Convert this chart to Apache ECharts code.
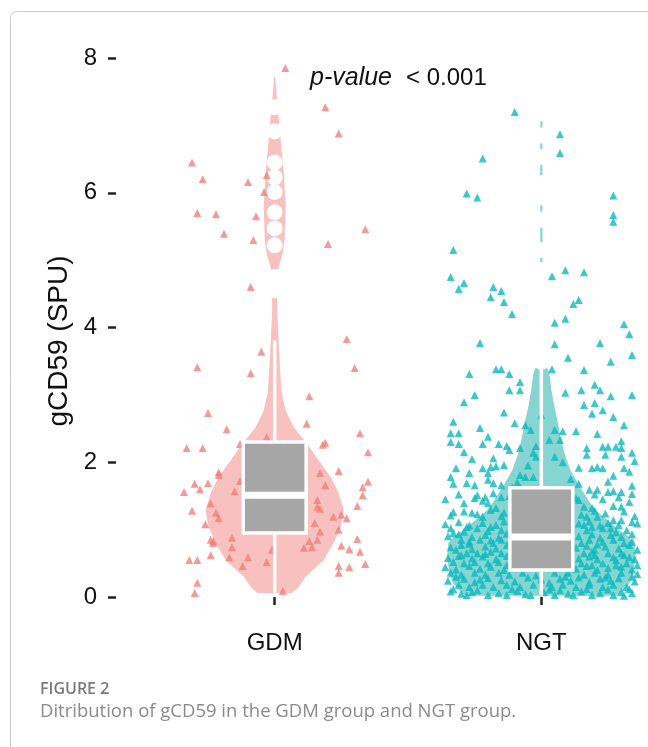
<!DOCTYPE html>
<html><head><meta charset="utf-8">
<script src="https://cdn.jsdelivr.net/npm/echarts@6/dist/echarts.min.js"></script>
<style>html,body{margin:0;padding:0;background:#fff}#c{width:648px;height:747px}</style>
</head><body><div id="c"></div><script>
// ---------- data ----------
const categories = ['GDM', 'NGT'];
const yTicks = [0, 2, 4, 6, 8];
// jittered points: [horizontal jitter (category units), gCD59 value]
const gdmPoints = [
[0.04,7.85],[0.19,7.27],[0.24,6.88],[-0.31,6.45],[-0.27,6.20],[-0.10,6.16],[-0.03,6.26],[-0.04,6.01],[-0.29,5.70],[-0.22,5.68],[-0.07,5.65],[0.34,5.46],[-0.19,5.39],[-0.08,5.30],[0.20,5.24],[-0.09,4.60],
[0.27,3.83],[-0.05,3.64],[-0.29,3.41],[0.30,3.40],[-0.09,3.32],[0.13,2.98],[-0.25,2.73],[-0.18,2.49],[0.12,2.57],[0.32,2.43],[-0.03,2.37],[-0.33,2.21],[-0.27,2.21],[0.18,2.26],[0.19,2.29],[0.35,2.15],[-0.13,2.27],
[0.24,1.87],[0.17,1.84],[-0.21,1.85],[-0.21,1.81],[0.35,1.71],[-0.30,1.68],[-0.25,1.69],[-0.28,1.60],[-0.34,1.56],[-0.15,1.57],[-0.13,1.72],[0.19,1.66],[0.33,1.63],[0.33,1.51],[-0.24,1.39],[0.16,1.44],[0.17,1.31],[0.16,1.34],[-0.31,1.28],[0.31,1.35],[-0.22,1.25],[-0.21,1.17],[-0.26,1.08],[0.22,1.19],[0.25,1.22],[0.27,1.17],[0.15,1.10],[0.24,1.00],[0.17,0.97],
[-0.24,0.85],[-0.23,0.83],[-0.16,0.88],[-0.23,0.80],[0.13,0.83],[0.16,0.85],[0.31,0.86],[-0.16,0.74],[0.11,0.73],[0.14,0.74],[0.25,0.76],[0.28,0.71],[0.32,0.67],[-0.24,0.62],[-0.17,0.59],[-0.10,0.59],[-0.32,0.55],[-0.29,0.55],[-0.03,0.52],[-0.12,0.46],[0.24,0.46],[0.28,0.44],[0.34,0.49],[0.24,0.36],[-0.29,0.21],[-0.30,0.06],[0.03,0.09],[-0.01,0.70]
];
const ngtPoints = [
[-0.10,7.20],[0.07,6.87],[0.07,6.59],[-0.22,6.51],[-0.28,5.99],[-0.24,5.93],[0.27,5.96],[0.27,5.67],[0.27,5.57],[-0.33,5.15],[-0.34,4.75],[-0.29,4.66],[-0.31,4.57],[0.04,4.76],[0.09,4.85],[0.16,4.82],[-0.18,4.60],[-0.15,4.54],[-0.19,4.45],[-0.14,4.38],[-0.11,4.20],[0.14,4.41],[0.12,4.35],[0.05,4.07],[0.09,4.13],[0.31,4.05],[0.33,3.90],[-0.23,3.77],[0.05,3.75],[0.22,3.77],
[0.34,3.59],[0.10,3.55],[0.26,3.49],[-0.27,3.31],[-0.17,3.38],[-0.15,3.38],[-0.12,3.31],[0.04,3.38],[0.16,3.37],[-0.08,3.19],[-0.08,3.07],[-0.25,3.00],[-0.12,3.07],[-0.29,2.89],[0.09,3.03],[0.15,3.07],[0.20,3.15],[0.22,3.07],[0.26,2.98],[0.34,3.00],[0.16,2.85],[0.20,2.88],[-0.14,2.74],[-0.23,2.51],[0.19,2.72],[0.23,2.77],[0.27,2.67],[-0.10,2.58],[-0.06,2.55],[-0.04,2.48],[0.05,2.48],[0.08,2.46],[0.13,2.46],[-0.34,2.43],[-0.31,2.43],[-0.34,2.30],[-0.31,2.27],[-0.29,2.15],[-0.22,2.27],[-0.16,2.27],[-0.13,2.24],[-0.12,2.18],[-0.08,2.21],[-0.03,2.14],[-0.02,2.24],[0.03,2.33],[0.07,2.33],[0.17,2.21],[0.17,2.11],[0.23,2.23],[0.25,2.23],[0.28,2.23],[0.30,2.31],[0.30,2.21],[0.34,2.14],[0.24,2.11],[0.30,2.08],[-0.18,2.06],[-0.19,1.93],[-0.32,1.91],[-0.22,1.91],[-0.20,1.84],[-0.17,1.94],[-0.14,1.96],[-0.08,1.81],[-0.06,1.78],[-0.03,1.78],[-0.02,2.08],[0.05,2.08],[0.19,1.91],[0.21,1.93],[0.23,1.91],[0.27,1.80],[0.31,1.91],
[-0.33,1.68],[-0.28,1.69],[-0.25,1.66],[-0.20,1.74],[-0.18,1.69],[-0.15,1.66],[-0.11,1.63],[-0.08,1.63],[0.14,1.68],[0.18,1.59],[0.21,1.59],[0.25,1.56],[0.27,1.57],[0.30,1.56],[0.34,1.65],[-0.24,1.51],[-0.21,1.48],[-0.25,1.47],[-0.15,1.48],[-0.29,1.39],[-0.20,1.39],[-0.17,1.32],[-0.33,1.26],[-0.26,1.25],[-0.22,1.19],[-0.15,1.20],[0.14,1.44],[0.16,1.34],[0.19,1.32],[0.23,1.45],[0.27,1.35],[0.30,1.34],[0.33,1.41],[0.27,1.14],[0.30,1.14],[0.34,1.11],[0.17,1.19],[0.21,1.19],[0.16,1.07],[0.19,1.04],[0.23,1.02],[0.28,0.96],[0.32,0.99],[-0.34,1.02],[-0.33,0.95],[-0.28,1.04],[-0.24,1.02],[-0.19,1.04],[-0.15,0.99],[-0.30,0.85],[-0.27,0.82],[-0.23,0.85],[-0.18,0.80],[-0.15,0.85],[-0.32,0.70],[-0.28,0.65],[-0.24,0.65],[-0.19,0.67],[-0.15,0.65],[0.15,0.80],[0.18,0.85],[0.23,0.82],[0.27,0.85],[0.31,0.80],[0.16,0.65],[0.20,0.62],[0.25,0.65],[0.30,0.65],[0.33,0.59],[-0.33,0.52],[-0.29,0.50],[-0.25,0.52],[-0.20,0.50],[-0.16,0.52],[0.15,0.50],[0.19,0.47],[0.23,0.50],[0.28,0.47],[0.32,0.50],[-0.34,0.36],[-0.30,0.33],[-0.25,0.36],[-0.21,0.33],[-0.16,0.36],[-0.12,0.33],[-0.07,0.36],[0.05,0.36],[0.10,0.36],[0.16,0.33],[0.20,0.36],[0.25,0.33],[0.30,0.36],[0.34,0.30],[-0.31,0.18],[-0.27,0.15],[-0.22,0.18],[-0.18,0.15],[-0.13,0.18],[-0.08,0.15],[-0.03,0.18],[0.04,0.15],[0.08,0.18],[0.13,0.15],[0.18,0.18],[0.23,0.15],[0.27,0.18],[0.32,0.15],[-0.28,0.03],[-0.20,0.03],[-0.13,0.03],[-0.04,0.03],[0.05,0.03],[0.12,0.03],[0.19,0.03],[0.27,0.03],[0.34,0.06],
[-0.34,0.08],[-0.30,0.05],[-0.24,0.10],[-0.16,0.06],[-0.09,0.09],[-0.06,0.04],[0.01,0.07],[0.07,0.10],[0.10,0.05],[0.15,0.08],[0.22,0.06],[0.25,0.11],[0.30,0.07],[0.33,0.12],
[-0.35,0.24],[-0.29,0.27],[-0.25,0.22],[-0.20,0.28],[-0.15,0.25],[-0.10,0.23],[-0.05,0.29],[0.00,0.26],[0.03,0.21],[0.07,0.27],[0.11,0.24],[0.14,0.29],[0.18,0.22],[0.22,0.27],[0.26,0.24],[0.29,0.28],[0.35,0.23],
[-0.36,0.44],[-0.32,0.41],[-0.27,0.46],[-0.23,0.42],[-0.19,0.45],[-0.14,0.40],[-0.13,0.47],[0.13,0.42],[0.17,0.46],[0.21,0.40],[0.25,0.43],[0.30,0.45],[0.34,0.41],[0.36,0.47],
[-0.35,0.58],[-0.31,0.61],[-0.26,0.57],[-0.22,0.60],[-0.17,0.56],[-0.13,0.61],[0.14,0.57],[0.18,0.60],[0.21,0.56],[0.27,0.59],[0.31,0.62],[0.35,0.56],
[-0.34,0.74],[-0.30,0.77],[-0.26,0.71],[-0.21,0.75],[-0.17,0.72],[-0.13,0.77],[0.13,0.73],[0.17,0.76],[0.20,0.70],[0.24,0.75],[0.29,0.72],[0.33,0.77],[0.36,0.70],
[-0.35,0.90],[-0.31,0.93],[-0.26,0.89],[-0.21,0.92],[-0.16,0.88],[-0.13,0.94],[0.14,0.90],[0.19,0.93],[0.22,0.88],[0.26,0.92],[0.30,0.89],[0.34,0.93],
[-0.36,1.08],[-0.31,1.11],[-0.27,1.06],[-0.22,1.10],[-0.17,1.07],[-0.14,1.12],[0.14,1.09],[0.18,1.12],[0.22,1.06],[0.25,1.10],[0.29,1.07],[0.36,1.09],
[-0.34,1.21],[-0.29,1.27],[-0.24,1.23],[-0.19,1.29],[-0.14,1.25],[0.15,1.22],[0.20,1.28],[0.24,1.24],[0.31,1.27],[0.35,1.20],
[-0.36,1.45],[-0.31,1.52],[-0.22,1.43],[-0.18,1.54],[-0.12,1.50],[0.13,1.47],[0.20,1.52],[0.29,1.48],[0.34,1.53],
[-0.34,1.78],[-0.27,1.84],[-0.09,1.70],[0.11,1.75],[0.25,1.71],[0.33,1.86],[-0.26,2.05],[-0.05,1.95],[0.08,2.00],[0.14,1.92],[0.35,2.02],[-0.20,2.38],[0.21,2.42],[0.31,2.55],[-0.33,2.60],[0.00,2.70],
[-0.33,0.12],[-0.26,0.07],[-0.11,0.12],[0.03,0.11],[0.17,0.12],[0.31,0.02],[-0.32,0.30],[-0.23,0.26],[-0.02,0.32],[0.09,0.30],[0.24,0.29],[0.36,0.34],
[-0.30,0.62],[-0.21,0.64],[0.19,0.67],[0.28,0.55],[-0.27,0.79],[-0.19,0.84],[0.21,0.78],[0.34,0.82],[-0.29,0.97],[-0.20,0.98],[0.17,0.99],[0.26,1.02]
];
// violin outlines: [value, half width (category units)]
const gdmViolin = [[0.06,0.064],[0.15,0.090],[0.30,0.116],[0.55,0.184],[0.80,0.221],[1.04,0.248],[1.29,0.259],[1.54,0.240],[1.78,0.210],[2.03,0.165],[2.28,0.120],[2.52,0.071],[2.77,0.041],[3.03,0.026],[3.27,0.022],[3.77,0.015],[4.26,0.0094],[4.80,0.0094],[4.95,0.019],[5.10,0.030],[5.30,0.037],[5.80,0.041],[6.30,0.034],[6.63,0.026],[6.80,0.022],[7.12,0.015],[7.37,0.009],[7.72,0.002]];
const ngtViolin = [[0.02,0.285],[0.10,0.308],[0.20,0.330],[0.35,0.345],[0.60,0.353],[0.80,0.349],[0.90,0.326],[0.99,0.293],[1.14,0.248],[1.29,0.203],[1.39,0.184],[1.63,0.146],[1.88,0.109],[2.14,0.086],[2.40,0.071],[2.63,0.060],[2.82,0.049],[3.07,0.038],[3.32,0.030],[3.40,0.022],[3.46,0.0045],[7.10,0.004],[7.20,0.001]];
// box stats: [lower whisker, Q1, median, Q3, upper whisker]
const gdmBox = [0.06, 0.95, 1.51, 2.30, 3.81];
const ngtBox = [0.02, 0.40, 0.89, 1.62, 3.40];
const gdmOutliers = [7.27, 6.91, 6.45, 6.23, 6.01, 5.71, 5.47, 5.22, 4.75, 4.55];
const ngtOutliers = [7.18, 6.85, 6.53, 6.14, 5.93, 5.60, 5.15, 4.85, 4.64, 4.44, 4.23, 4.02, 3.81, 3.61, 3.49];

// ---------- chart ----------
const FONT = '"Liberation Sans", Arial, sans-serif';
const chart = echarts.init(document.getElementById('c'), null, {renderer: 'canvas'});

function violinSeries(profile, center, color) {
  return {
    type: 'custom', z: 1, silent: true, clip: false,
    data: [[center, 0]],
    renderItem: function (params, api) {
      const left = profile.map(p => api.coord([center - p[1], p[0]]));
      const right = profile.slice().reverse().map(p => api.coord([center + p[1], p[0]]));
      return {type: 'polygon', shape: {points: left.concat(right)}, style: {fill: color}};
    }
  };
}
function boxSeries(st, center) {
  return {
    type: 'custom', z: 5, silent: true, clip: false,
    data: [[center, st[2]]],
    renderItem: function (params, api) {
      const hw = 0.118;
      const tl = api.coord([center - hw, st[3]]);
      const br = api.coord([center + hw, st[1]]);
      const cx = api.coord([center, 0])[0];
      const yLo = api.coord([center, st[0]])[1];
      const yHi = api.coord([center, st[4]])[1];
      const yMed = api.coord([center, st[2]])[1];
      return {type: 'group', children: [
        {type: 'line', shape: {x1: cx, y1: yHi, x2: cx, y2: tl[1]}, style: {stroke: '#fff', lineWidth: 3.5}},
        {type: 'line', shape: {x1: cx, y1: br[1], x2: cx, y2: yLo}, style: {stroke: '#fff', lineWidth: 3.5}},
        {type: 'rect', shape: {x: tl[0], y: tl[1], width: br[0] - tl[0], height: br[1] - tl[1]}, style: {fill: '#a6a6a6', stroke: '#fff', lineWidth: 3.5}},
        {type: 'line', shape: {x1: tl[0], y1: yMed, x2: br[0], y2: yMed}, style: {stroke: '#fff', lineWidth: 7}}
      ]};
    }
  };
}
function outlierSeries(vals, center) {
  return {type: 'scatter', z: 2, silent: true, symbol: 'circle', symbolSize: 16,
    itemStyle: {color: '#ffffff', opacity: 1}, data: vals.map(v => [center, v])};
}
function pointSeries(pts, center, color) {
  return {type: 'scatter', z: 3, silent: true, symbol: 'triangle', symbolSize: 8,
    itemStyle: {color: color, opacity: 1}, data: pts.map(p => [center + p[0], p[1]])};
}

chart.setOption({
  animation: false,
  backgroundColor: '#ffffff',
  grid: {left: 116, right: 0, top: 58, bottom: 150, containLabel: false, outerBoundsMode: 'none'},
  xAxis: {
    type: 'value', min: 0.405, max: 2.40, offset: 24,
    axisLine: {show: false},
    splitLine: {show: false},
    axisTick: {show: true, customValues: [1, 2], length: 8, lineStyle: {color: '#222', width: 2.5}},
    axisLabel: {customValues: [1, 2], formatter: v => categories[Math.round(v) - 1],
      fontSize: 24, color: '#111', fontFamily: FONT, margin: 10}
  },
  yAxis: {
    type: 'value', min: 0, max: 8, interval: 2,
    axisLine: {show: false},
    splitLine: {show: false},
    axisTick: {show: true, length: 8, lineStyle: {color: '#222', width: 2.5}},
    axisLabel: {fontSize: 24, color: '#111', fontFamily: FONT, margin: 19,
      formatter: v => (yTicks.indexOf(v) >= 0 ? String(v) : '')}
  },
  graphic: [
    {type: 'rect', silent: true, shape: {x: 10.5, y: 11.5, width: 720, height: 800, r: 6},
      style: {fill: 'none', stroke: '#cccccc', lineWidth: 1}},
    {type: 'text', silent: true, x: 59, y: 341, rotation: Math.PI / 2,
      style: {text: 'gCD59 (SPU)', font: '28px ' + FONT, fill: '#111', align: 'center', verticalAlign: 'middle'}},
    {type: 'text', silent: true, x: 310, y: 78,
      style: {text: 'p-value', font: 'italic 25px ' + FONT, fill: '#111', verticalAlign: 'middle'}},
    {type: 'text', silent: true, x: 406, y: 78,
      style: {text: '< 0.001', font: '24px ' + FONT, fill: '#111', verticalAlign: 'middle'}},
    {type: 'text', silent: true, x: 40, y: 689,
      style: {text: 'FIGURE 2', font: '600 16px "Open Sans", sans-serif', fill: '#7a7a7a', verticalAlign: 'middle'}},
    {type: 'text', silent: true, x: 40, y: 712,
      style: {text: 'Ditribution of gCD59 in the GDM group and NGT group.', font: '18.5px "Open Sans", sans-serif', fill: '#8a8a8a', verticalAlign: 'middle'}}
  ],
  series: [
    violinSeries(gdmViolin, 1, '#F8C0BE'),
    violinSeries(ngtViolin, 2, '#86D5D2'),
    outlierSeries(gdmOutliers, 1),
    outlierSeries(ngtOutliers, 2),
    pointSeries(gdmPoints, 1, 'rgba(240,125,120,0.78)'),
    pointSeries(ngtPoints, 2, 'rgba(10,185,190,0.8)'),
    boxSeries(gdmBox, 1),
    boxSeries(ngtBox, 2)
  ]
});
</script></body></html>
